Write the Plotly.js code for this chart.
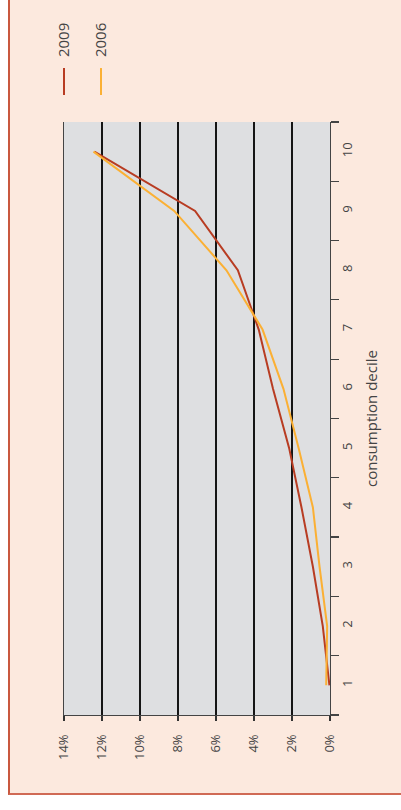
<!DOCTYPE html>
<html>
<head>
<meta charset="utf-8">
<script src="https://cdn.plot.ly/plotly-3.0.1.min.js"></script>
<style>
  html, body { margin: 0; padding: 0; background: #ffffff; }
  #frame { position: absolute; left: 8px; top: 0; width: 393px; height: 793px;
           background: #fce9de; border-left: 2px solid #c9583f; border-bottom: 2px solid #d06a55; }
  #chart { position: absolute; left: 0; top: 0; width: 401px; height: 810px; }
</style>
</head>
<body>
<div id="frame"></div>
<div id="chart"></div>
<script>
// Data
var deciles = ['1', '2', '3', '4', '5', '6', '7', '8', '9', '10'];
var share2009 = [0.03, 0.38, 0.9, 1.5, 2.15, 3.0, 3.75, 4.85, 7.1, 12.4];
var share2006 = [0.2, 0.15, 0.55, 0.9, 1.65, 2.45, 3.55, 5.45, 8.2, 12.45];
var percentTicks = [0, 2, 4, 6, 8, 10, 12, 14];
var percentLabels = ['0%', '2%', '4%', '6%', '8%', '10%', '12%', '14%'];
var seriesNames = ['2009', '2006'];
var seriesColors = ['#b83c22', '#fbb034'];
var axisTitle = 'consumption decile';

var font = 'Open Sans, Liberation Sans, sans-serif';

var traces = [
  { x: share2009, y: deciles, type: 'scatter', mode: 'lines', name: seriesNames[0],
    line: { color: seriesColors[0], width: 2 }, hoverinfo: 'skip' },
  { x: share2006, y: deciles, type: 'scatter', mode: 'lines', name: seriesNames[1],
    line: { color: seriesColors[1], width: 2 }, hoverinfo: 'skip' }
];

var legendX = [-0.004, 0.135];
var annotations = seriesNames.map(function (n, i) {
  return { text: n, xref: 'paper', yref: 'paper', x: legendX[i], y: 1.138,
           xanchor: 'center', yanchor: 'middle', textangle: -90, showarrow: false,
           font: { family: font, size: 15, color: '#444' } };
});
var shapes = seriesNames.map(function (n, i) {
  return { type: 'line', xref: 'paper', yref: 'paper', x0: legendX[i] + 0.004, x1: legendX[i] + 0.004,
           y0: 1.0455, y1: 1.091, line: { color: seriesColors[i], width: 2 } };
});

var layout = {
  width: 401, height: 810,
  margin: { l: 64, r: 71, t: 122, b: 95 },
  paper_bgcolor: 'rgba(0,0,0,0)',
  plot_bgcolor: '#dedfe1',
  showlegend: false,
  font: { family: font, color: '#444' },
  xaxis: {
    range: [14, 0],
    tickmode: 'array',
    tickvals: percentTicks,
    ticktext: percentLabels,
    tickangle: -90,
    ticks: 'outside', ticklen: 5, tickcolor: '#333', tickwidth: 1.2,
    ticklabelstandoff: 8,
    showgrid: true, gridcolor: '#151515', gridwidth: 1.3,
    zeroline: false,
    showline: true, linecolor: '#444', linewidth: 1.2,
    tickfont: { family: font, size: 13, color: '#444' },
    fixedrange: true
  },
  yaxis: {
    type: 'category',
    categoryarray: deciles,
    side: 'right',
    tickangle: -90,
    ticks: 'outside', tickson: 'boundaries', ticklen: 8, tickcolor: '#444', tickwidth: 1.2,
    ticklabelstandoff: 5,
    showgrid: false, zeroline: false,
    showline: true, linecolor: '#444', linewidth: 1.2, mirror: true,
    tickfont: { family: font, size: 13, color: '#444' },
    title: { text: axisTitle, font: { family: font, size: 15, color: '#444' }, standoff: 11 },
    fixedrange: true
  },
  annotations: annotations,
  shapes: shapes
};

Plotly.newPlot('chart', traces, layout, { displayModeBar: false, staticPlot: true });
</script>
</body>
</html>
